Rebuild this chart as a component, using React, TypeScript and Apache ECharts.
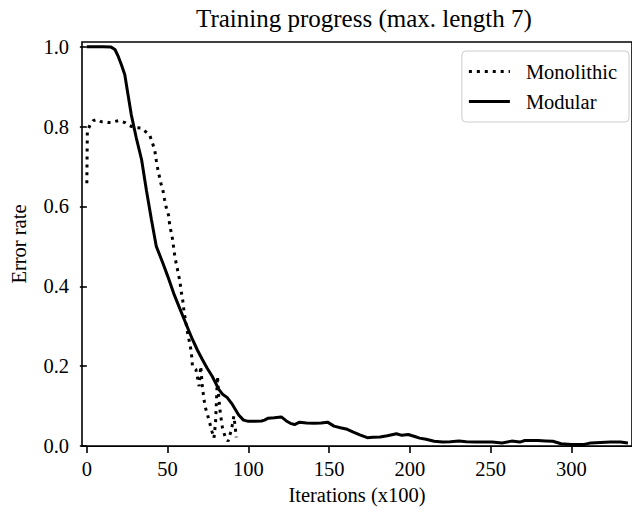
import React, { useEffect, useRef } from "react";
import * as echarts from "echarts";

const xTicks = [0, 50, 100, 150, 200, 250, 300];
const yTicks = [0, 0.2, 0.4, 0.6, 0.8, 1.0];

const monolithicX = [0, 0.3, 2.2, 4, 6.4, 9, 11.4, 13.5, 15.5, 17.5, 19.6, 21.5, 23.7, 25.5, 27.8, 31, 33.9, 36.5, 38.9, 40.5, 42, 43, 44, 45.7, 47.1, 48.1, 49.1, 50.6, 51.2, 52.2, 53.2, 53.8, 54.6, 55.6, 56.7, 57.7, 58.3, 59.3, 60.3, 61.4, 62.4, 63.4, 64.4, 65, 65.4, 67.5, 68.5, 69.5, 70.5, 71.5, 72.5, 73.5, 74.6, 75.6, 76.6, 77.6, 78.7, 79.7, 80.4, 80.9, 81.7, 82.7, 84, 85.5, 87.4, 88.9, 90.2, 91, 91.8, 92.5];
const monolithicY = [0.658, 0.79, 0.805, 0.815, 0.818, 0.812, 0.812, 0.81, 0.81, 0.813, 0.815, 0.812, 0.81, 0.805, 0.8, 0.797, 0.796, 0.787, 0.779, 0.76, 0.742, 0.715, 0.692, 0.66, 0.64, 0.618, 0.598, 0.578, 0.557, 0.535, 0.515, 0.494, 0.472, 0.452, 0.431, 0.41, 0.39, 0.367, 0.333, 0.308, 0.283, 0.263, 0.242, 0.221, 0.2, 0.192, 0.171, 0.15, 0.2, 0.15, 0.117, 0.095, 0.08, 0.065, 0.05, 0.035, 0.02, 0.06, 0.13, 0.175, 0.12, 0.08, 0.045, 0.025, 0.012, 0.033, 0.055, 0.075, 0.05, 0.022];

const modularX = [0, 5, 10, 15, 17.4, 19.5, 21.4, 23.5, 25.5, 27.5, 30.6, 33.9, 36.9, 40, 43, 47.1, 50.1, 54.2, 57, 60.3, 63, 65.4, 68.5, 71.5, 74.5, 77.6, 81.7, 84, 86.8, 90, 94, 97, 100, 104, 108.2, 110, 112.3, 116, 120.4, 123.5, 126, 128.6, 131.7, 136, 140.8, 145, 149, 153, 157, 161.2, 165, 169, 173.6, 177, 181.5, 186, 191.7, 195, 198.9, 203, 206, 210, 215, 220.3, 225, 230.4, 235, 240.6, 246, 250.9, 257, 263, 268, 271.2, 275, 279.3, 284, 288.5, 293.6, 299.8, 304, 307.9, 312, 318, 324.2, 330.3, 335];
const modularY = [1.0, 1.0, 1.0, 0.999, 0.993, 0.975, 0.955, 0.93, 0.88, 0.83, 0.772, 0.717, 0.64, 0.567, 0.5, 0.458, 0.425, 0.378, 0.35, 0.317, 0.29, 0.267, 0.24, 0.217, 0.195, 0.175, 0.142, 0.13, 0.122, 0.105, 0.078, 0.065, 0.062, 0.062, 0.063, 0.065, 0.07, 0.071, 0.073, 0.063, 0.057, 0.054, 0.06, 0.058, 0.057, 0.058, 0.06, 0.05, 0.046, 0.042, 0.035, 0.028, 0.021, 0.022, 0.023, 0.026, 0.031, 0.027, 0.029, 0.024, 0.02, 0.017, 0.012, 0.01, 0.011, 0.0125, 0.011, 0.01, 0.01, 0.01, 0.008, 0.0125, 0.01, 0.014, 0.014, 0.014, 0.013, 0.012, 0.006, 0.004, 0.004, 0.004, 0.008, 0.009, 0.01, 0.01, 0.008];

const FONT = "Liberation Serif";

const DOTTED_ICON = "path://M0,0h3v3h-3zM7.95,0h3v3h-3zM15.9,0h3v3h-3zM23.85,0h3v3h-3zM31.8,0h3v3h-3zM39.75,0h1.25v3h-1.25z";
const SOLID_ICON = "path://M0,0h41v3h-41z";

export default function App() {
  const ref = useRef<HTMLDivElement>(null);
  useEffect(() => {
    const chart = echarts.init(ref.current!, null, { renderer: "svg" });
    const pairs = (xs: number[], ys: number[]) => xs.map((x, i) => [x, ys[i]]);
    chart.setOption({
      animation: false,
      backgroundColor: "#ffffff",
      textStyle: { fontFamily: FONT },
      title: {
        text: "Training progress (max. length 7)",
        left: 191,
        top: 1,
        textStyle: { fontFamily: FONT, fontSize: 25, fontWeight: "normal", color: "#000" },
      },
      legend: {
        orient: "vertical",
        right: 3,
        top: 51,
        padding: [10, 12, 10, 7],
        itemWidth: 41,
        itemHeight: 14,
        itemGap: 9,
        symbolKeepAspect: true,
        backgroundColor: "#ffffff",
        borderColor: "#cccccc",
        borderWidth: 1,
        borderRadius: 4,
        itemStyle: { color: "#000", borderWidth: 0 },
        formatter: (name: string) => "{t|" + name + "}",
        textStyle: {
          fontFamily: FONT,
          fontSize: 20.5,
          color: "#000",
          rich: {
            t: { fontFamily: FONT, fontSize: 20.5, color: "#000", padding: [0, 0, 0, 11], lineHeight: 21 },
          },
        },
        data: [
          { name: "Monolithic", icon: DOTTED_ICON },
          { name: "Modular", icon: SOLID_ICON },
        ],
      },
      grid: {
        left: 80.7,
        top: 42,
        right: -7.5,
        bottom: 63.3,
        show: true,
        borderColor: "#000",
        borderWidth: 1.6,
        containLabel: false,
      },
      xAxis: {
        type: "value",
        min: -3,
        max: 337.5,
        name: "Iterations (x100)",
        nameLocation: "middle",
        nameGap: 37,
        nameTextStyle: { fontFamily: FONT, fontSize: 20.5, color: "#000" },
        axisLine: { show: false },
        splitLine: { show: false },
        axisTick: { show: true, length: 7, lineStyle: { color: "#000", width: 1.6 }, customValues: xTicks },
        axisLabel: {
          fontFamily: FONT, fontSize: 20.5, color: "#000", margin: 12,
          customValues: xTicks,
          formatter: (v: number) => String(v),
        },
      },
      yAxis: {
        type: "value",
        min: 0,
        max: 1.0118,
        name: "Error rate",
        nameLocation: "middle",
        nameGap: 53,
        nameTextStyle: { fontFamily: FONT, fontSize: 20.5, color: "#000" },
        axisLine: { show: false },
        splitLine: { show: false },
        axisTick: { show: true, length: 7, lineStyle: { color: "#000", width: 1.6 }, customValues: yTicks },
        axisLabel: {
          fontFamily: FONT, fontSize: 20.5, color: "#000", margin: 13,
          customValues: yTicks,
          formatter: (v: number) => v.toFixed(1),
        },
      },
      series: [
        {
          name: "Monolithic",
          type: "line",
          data: pairs(monolithicX, monolithicY),
          symbol: "none",
          showSymbol: false,
          lineStyle: { color: "#000", width: 3, type: [3, 4.95], cap: "butt" },
          itemStyle: { color: "#000" },
          z: 3,
        },
        {
          name: "Modular",
          type: "line",
          data: pairs(modularX, modularY),
          symbol: "none",
          showSymbol: false,
          lineStyle: { color: "#000", width: 3, type: "solid" },
          itemStyle: { color: "#000" },
          z: 2,
        },
      ],
    });
    return () => chart.dispose();
  }, []);
  return <div ref={ref} style={{ position: "absolute", left: 0, top: 0, width: 632, height: 510 }} />;
}
